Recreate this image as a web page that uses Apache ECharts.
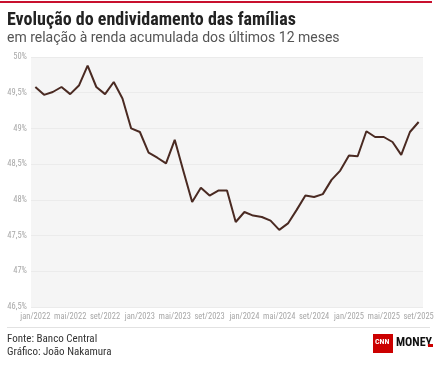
<!DOCTYPE html>
<html>
<head>
<meta charset="utf-8">
<script src="https://cdn.jsdelivr.net/npm/echarts@6/dist/echarts.min.js"></script>
<style>
html,body{margin:0;padding:0;background:#fff;}
#c{width:438px;height:365px;}
</style>
</head>
<body>
<div id="c"></div>
<script>
const monthNames = ['jan','fev','mar','abr','mai','jun','jul','ago','set','out','nov','dez'];
const startYear = 2022;
const months = [];
for (let i = 0; i < 45; i++) {
  months.push(monthNames[i % 12] + '/' + (startYear + Math.floor(i / 12)));
}
const values = [49.58,49.47,49.51,49.58,49.48,49.60,49.88,49.58,49.48,49.65,49.42,49.00,
  48.95,48.66,48.59,48.51,48.84,48.40,47.97,48.17,48.06,48.13,48.13,47.69,
  47.83,47.78,47.76,47.71,47.58,47.67,47.86,48.06,48.04,48.08,48.28,48.41,
  48.62,48.61,48.96,48.88,48.88,48.81,48.63,48.95,49.09];
const yMin = 46.5, yMax = 50, yStep = 0.5;
const titleText = 'Evolução do endividamento das famílias';
const subtitleText = 'em relação à renda acumulada dos últimos 12 meses';
const sourceText = 'Fonte: Banco Central';
const authorText = 'Gráfico: João Nakamura';

const chart = echarts.init(document.getElementById('c'), null, {renderer: 'canvas'});
const condensed = '"Roboto Condensed","Liberation Sans Narrow","Arial Narrow",Roboto,sans-serif';
chart.setOption({
  backgroundColor: '#fff',
  animation: false,
  grid: {left: 31, right: 15, top: 57, bottom: 58, show: true, backgroundColor: '#f5f5f5', borderWidth: 0},
  xAxis: {
    type: 'category',
    data: months,
    boundaryGap: true,
    axisLine: {show: false},
    axisTick: {show: false},
    axisLabel: {interval: 3, color: '#a8a8a8', fontSize: 8.5, fontFamily: condensed, margin: 5, showMaxLabel: true},
    splitLine: {show: false}
  },
  yAxis: {
    type: 'value',
    min: yMin, max: yMax, interval: yStep,
    axisLine: {show: false},
    axisTick: {show: false},
    axisLabel: {color: '#a8a8a8', fontSize: 8.5, fontFamily: condensed, margin: 4,
      formatter: v => String(+v.toFixed(1)).replace('.', ',') + '%'},
    splitLine: {lineStyle: {color: '#ebebeb', width: 1}}
  },
  series: [{
    type: 'line',
    data: values,
    symbol: 'none',
    lineStyle: {color: '#4a2a22', width: 2},
    itemStyle: {color: '#4a2a22'}
  }],
  graphic: [
    {type: 'rect', left: 0, top: 1, shape: {width: 432, height: 2}, style: {fill: '#c8102e'}},
    {type: 'text', left: 7, top: 11, style: {text: titleText, font: 'bold 18px ' + condensed, fill: '#222'}},
    {type: 'text', left: 7, top: 31, style: {text: subtitleText, font: '14px Roboto, sans-serif', fill: '#555'}},
    {type: 'rect', left: 7, top: 327, shape: {width: 423, height: 1}, style: {fill: '#e2e2e2'}},
    {type: 'text', left: 7, top: 334, style: {text: sourceText, font: '11px ' + condensed, fill: '#333'}},
    {type: 'text', left: 7, top: 347, style: {text: authorText, font: '11px ' + condensed, fill: '#333'}},
    {type: 'rect', left: 373, top: 334, shape: {width: 20, height: 19}, style: {fill: '#cc0000'}},
    {type: 'text', left: 375, top: 338, style: {text: 'CNN', font: 'bold 8px ' + condensed, fill: '#fff'}},
    {type: 'text', left: 396, top: 337, style: {text: 'MONEY', font: 'bold 12px ' + condensed, fill: '#111'}},
    {type: 'rect', left: 428, top: 344, shape: {width: 5, height: 3}, style: {fill: '#cc0000'}}
  ]
});
</script>
</body>
</html>
